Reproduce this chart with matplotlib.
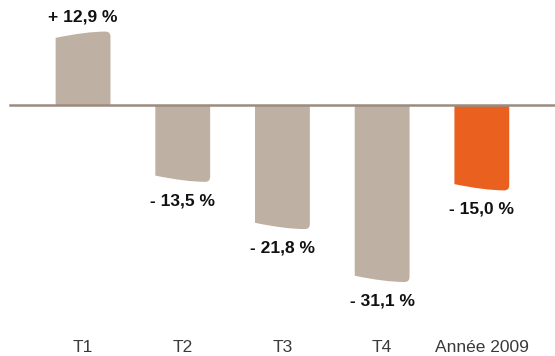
import matplotlib
matplotlib.use("Agg")
import matplotlib.pyplot as plt
from matplotlib.path import Path
from matplotlib.patches import PathPatch

# Évolution trimestrielle et annuelle (en %)
categories = ["T1", "T2", "T3", "T4", "Année 2009"]
valeurs = [12.9, -13.5, -21.8, -31.1, -15.0]
etiquettes = ["+ 12,9 %", "- 13,5 %", "- 21,8 %", "- 31,1 %", "- 15,0 %"]
couleurs = ["#bfb0a4", "#bfb0a4", "#bfb0a4", "#bfb0a4", "#e9601f"]

plt.rcParams["font.family"] = ["Liberation Sans", "DejaVu Sans"]

fig = plt.figure(figsize=(5.55, 3.56), dpi=100)
ax = fig.add_axes([0, 0, 1, 1])
ax.set_xlim(-0.833, 4.734)
ax.set_ylim(-44.1, 18.45)
ax.axis("off")

largeur = 0.55
d = 1.1     # décalage du coin gauche (bout incliné)
rx, ry = 0.05, 0.9  # arrondi du coin droit


def barre(x, v, couleur):
    s = 1 if v >= 0 else -1
    x0, x1 = x - largeur / 2, x + largeur / 2
    verts = [
        (x0, 0),
        (x0, v - s * d),
        (x0 + 0.55 * largeur, v), (x1 - rx, v),
        (x1, v), (x1, v - s * ry),
        (x1, 0),
        (x0, 0),
    ]
    codes = [Path.MOVETO, Path.LINETO,
             Path.CURVE3, Path.CURVE3,
             Path.CURVE3, Path.CURVE3,
             Path.LINETO, Path.CLOSEPOLY]
    ax.add_patch(PathPatch(Path(verts, codes), facecolor=couleur,
                           edgecolor="none", zorder=2))


for i, (v, lab, c) in enumerate(zip(valeurs, etiquettes, couleurs)):
    barre(i, v, c)
    if v >= 0:
        ax.text(i, v + 2.5, lab, ha="center", va="center",
                fontsize=12.5, fontweight="bold", color="#111111")
    else:
        ax.text(i, v - 3.3, lab, ha="center", va="center",
                fontsize=12.5, fontweight="bold", color="#111111")
    ax.text(i, -42.6, categories[i], ha="center", va="center",
            fontsize=12.5, color="#3a3a3a")

# ligne de base
ax.axhline(0, xmin=10 / 555, xmax=1, color="#9b8b80", lw=1.8, zorder=3)

fig.savefig("out.png", dpi=100)
